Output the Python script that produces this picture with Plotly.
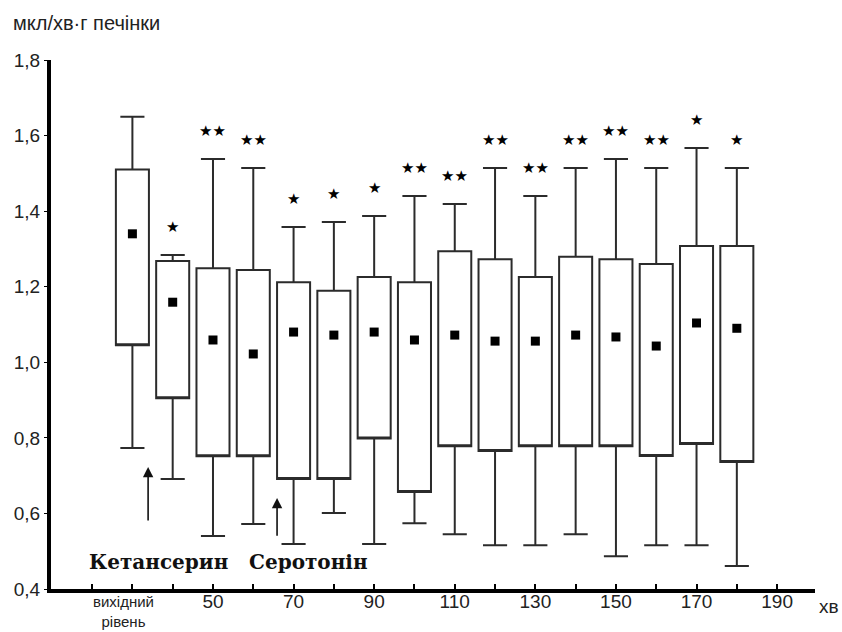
import plotly.graph_objects as go

# ---- data ----
minutes = [30, 40, 50, 60, 70, 80, 90, 100, 110, 120, 130, 140, 150, 160, 170, 180]
whisk_hi = [1.65, 1.284, 1.538, 1.514, 1.358, 1.371, 1.387, 1.44, 1.419, 1.514, 1.44, 1.514, 1.538, 1.514, 1.567, 1.514]
q3_vals = [1.51, 1.268, 1.249, 1.244, 1.212, 1.189, 1.226, 1.212, 1.294, 1.273, 1.226, 1.279, 1.273, 1.26, 1.308, 1.308]
mean_vals = [1.34, 1.159, 1.059, 1.022, 1.08, 1.072, 1.08, 1.059, 1.072, 1.056, 1.056, 1.072, 1.067, 1.043, 1.104, 1.09]
q1_vals = [1.045, 0.905, 0.751, 0.751, 0.691, 0.691, 0.798, 0.657, 0.778, 0.765, 0.778, 0.778, 0.778, 0.752, 0.784, 0.736]
whisk_lo = [0.773, 0.691, 0.54, 0.572, 0.519, 0.601, 0.519, 0.574, 0.545, 0.516, 0.516, 0.545, 0.487, 0.516, 0.516, 0.461]
signif = ["", "*", "**", "**", "*", "*", "*", "**", "**", "**", "**", "**", "**", "**", "*", "*"]

tick_marks = list(range(20, 200, 10))
tick_labels = {50: "50", 70: "70", 90: "90", 110: "110", 130: "130", 150: "150", 170: "170", 190: "190"}
y_ticks = [0.4, 0.6, 0.8, 1.0, 1.2, 1.4, 1.6, 1.8]

fig = go.Figure()

fig.add_trace(go.Box(
    x=minutes, q1=q1_vals, median=q1_vals, q3=q3_vals,
    lowerfence=whisk_lo, upperfence=whisk_hi,
    width=8.2, whiskerwidth=0.73,
    fillcolor="white", line=dict(color="#2b2b2b", width=2),
    boxpoints=False, showlegend=False, hoverinfo="skip",
))

fig.add_trace(go.Scatter(
    x=minutes, y=mean_vals, mode="markers",
    marker=dict(symbol="square", size=9, color="black"),
    showlegend=False, hoverinfo="skip",
))

# significance stars
for xm, yh, s in zip(minutes, whisk_hi, signif):
    if s:
        fig.add_annotation(x=xm, y=yh, xref="x", yref="y", text="★" * len(s),
                           showarrow=False, yshift=28, yanchor="middle",
                           font=dict(family="DejaVu Sans", size=15, color="black"))

# arrows
fig.add_annotation(x=33.9, y=0.723, ax=33.9, ay=0.577, xref="x", yref="y", axref="x", ayref="y",
                   text="", showarrow=True, arrowhead=2, arrowsize=1.3, arrowwidth=1.6, arrowcolor="#111")
fig.add_annotation(x=65.9, y=0.641, ax=65.9, ay=0.537, xref="x", yref="y", axref="x", ayref="y",
                   text="", showarrow=True, arrowhead=2, arrowsize=1.3, arrowwidth=1.6, arrowcolor="#111")

# drug labels
fig.add_annotation(x=36.4, y=0.471, xref="x", yref="y", text="<b>Кетансерин</b>", showarrow=False,
                   font=dict(family="DejaVu Serif", size=20, color="#111"))
fig.add_annotation(x=73.8, y=0.471, xref="x", yref="y", text="<b>Серотонін</b>", showarrow=False,
                   font=dict(family="DejaVu Serif", size=20, color="#111"))

# axis texts
fig.add_annotation(x=-0.052, y=1.07, xref="paper", yref="paper", text="мкл/хв·г печінки",
                   showarrow=False, xanchor="left", yanchor="middle",
                   font=dict(family="Liberation Sans", size=20, color="#222"))
fig.add_annotation(x=1.018, y=-0.034, xref="paper", yref="paper", text="хв",
                   showarrow=False, xanchor="center", yanchor="middle",
                   font=dict(family="Liberation Sans", size=19, color="#222"))
fig.add_annotation(x=27.9, y=-0.043, xref="x", yref="paper", text="вихідний<br>рівень",
                   showarrow=False, xanchor="center", yanchor="middle",
                   font=dict(family="Liberation Sans", size=15, color="#222"))

fig.update_layout(
    width=842, height=632,
    margin=dict(l=51, r=27, t=60, b=43),
    paper_bgcolor="white", plot_bgcolor="white",
    separators=",.",
    showlegend=False,
    font=dict(family="Liberation Sans", color="#222"),
)
fig.update_xaxes(
    range=[9.8, 199.4], showgrid=False, zeroline=False,
    showline=True, linewidth=4, linecolor="black",
    ticks="inside", ticklen=5, tickwidth=2, tickcolor="black",
    tickvals=tick_marks, ticktext=[tick_labels.get(t, "") for t in tick_marks],
    tickfont=dict(size=19, color="#222"),
    ticklabelstandoff=-8,
)
fig.update_yaxes(
    range=[0.4, 1.8], showgrid=False, zeroline=False,
    showline=True, linewidth=4, linecolor="black",
    ticks="outside", ticklen=3, tickwidth=1, tickcolor="black",
    tickvals=y_ticks, tickformat=".1f",
    tickfont=dict(size=19, color="#222"),
)

fig.write_html("out.html")
